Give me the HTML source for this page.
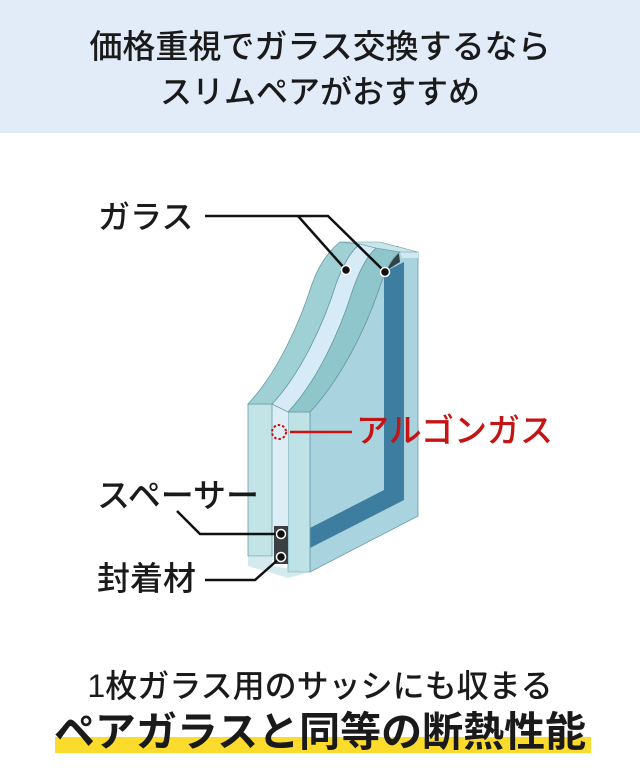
<!DOCTYPE html>
<html><head><meta charset="utf-8"><style>
html,body{margin:0;padding:0;background:#fff;}
body{width:640px;height:773px;position:relative;overflow:hidden;font-family:"Liberation Sans","Noto Sans CJK JP",sans-serif;color:#1a1a1a;}
.hd{position:absolute;left:0;top:0;width:640px;height:133px;background:#e1ecf8;}
.t{position:absolute;white-space:nowrap;font-weight:500;}
</style></head><body>
<div class="hd"></div>
<div class="t" style="left:0;width:640px;text-align:center;top:26px;font-size:33px;line-height:42px;">価格重視でガラス交換するなら</div>
<div class="t" style="left:0;width:640px;text-align:center;top:71px;font-size:32px;line-height:42px;">スリムペアがおすすめ</div>

<svg width="640" height="773" style="position:absolute;left:0;top:0">
<rect x="55" y="737" width="536" height="16" fill="#fbdc2c"/>
<path d="M310,412 C340,380 365,330 378,292 C386,268 392,258 400,252 L418,252 L418,516 L310,572 Z" fill="#a9d3df" stroke="#6a9aa8" stroke-width="0.8"/>
<path d="M400,252 L418,252 L418,258 L402,258Z" fill="#cfe9ee"/>
<path d="M384,272 L404,262 L404,500 L310,548 L310,528 L384,490 Z" fill="#3d7ea0"/>
<path d="M378,250 L398,246 L400,262 L384,272Z" fill="#30424a"/>
<path d="M288,412 L310,412 L310,572 L288,572 Z" fill="#bfe2e6" stroke="#6a9aa8" stroke-width="0.8"/>
<path d="M288,412 C318,380 340,330 352,292 C360,268 368,255 376,248 L400,252 C392,258 386,268 378,292 C365,330 340,380 310,412 Z" fill="#8fc6cc" stroke="#6a9aa8" stroke-width="0.8"/>
<path d="M272,404 L288,412 L288,560 L272,560 Z" fill="#dcedf6"/>
<path d="M272,404 C302,372 324,322 336,284 C344,262 352,250 360,244 L376,248 C368,255 360,268 352,292 C340,330 318,380 288,412 Z" fill="#d6ebf5" stroke="#6a9aa8" stroke-width="0.8"/>
<rect x="274" y="526" width="14" height="38" fill="#3a3f42"/>
<path d="M248,404 L272,404 L272,556 L248,556 Z" fill="#bfe3e6" stroke="#6a9aa8" stroke-width="0.8" fill-opacity="0.95"/>
<path d="M248,404 C278,372 300,322 312,284 C320,262 330,250 340,242 L360,244 C352,250 344,262 336,284 C324,322 302,372 272,404 Z" fill="#9fd0d4" stroke="#6a9aa8" stroke-width="0.8"/>
<path d="M340,242 L380,242 L418,252 L400,252 L376,248 L360,244Z" fill="#c8e6ea" stroke="#6a9aa8" stroke-width="0.6"/>
<path d="M248,556 L272,556 L272,566 L310,572 L288,578 L248,566Z" fill="#b5dde2" opacity="0.6"/>

<g stroke="#111" stroke-width="2.5" fill="none">
<path d="M205,216 L328,216 L385,272"/>
<path d="M298,216 L346,270"/>
<path d="M177,511 L200,534 L281,534"/>
<path d="M205,580 L255,580 L281,557"/>
</g>
<g fill="#111" stroke="#fff" stroke-width="1.5">
<circle cx="346" cy="270" r="4.5"/><circle cx="385" cy="272" r="4.5"/>
<circle cx="281" cy="534" r="4.5"/><circle cx="281" cy="557" r="4.5"/>
</g>
<circle cx="279" cy="432" r="7" fill="none" stroke="#cc1111" stroke-width="2" stroke-dasharray="2.5 2"/>
<path d="M290,432 L352,432" stroke="#cc1111" stroke-width="2.5"/>
</svg>

<div class="t" style="left:98px;top:197px;font-size:32px;line-height:40px;">ガラス</div>
<div class="t" style="left:356px;top:411px;font-size:33px;line-height:40px;color:#c41414;">アルゴンガス</div>
<div class="t" style="left:97px;top:476px;font-size:33px;line-height:40px;">スペーサー</div>
<div class="t" style="left:97px;top:559px;font-size:33px;line-height:40px;">封着材</div>
<div class="t" style="left:0;width:640px;text-align:center;top:666px;font-size:32px;line-height:40px;">1枚ガラス用のサッシにも収まる</div>
<div class="t" style="left:0;width:640px;text-align:center;top:708px;font-size:41px;line-height:48px;font-weight:bold;">ペアガラスと同等の断熱性能</div>
</body></html>
